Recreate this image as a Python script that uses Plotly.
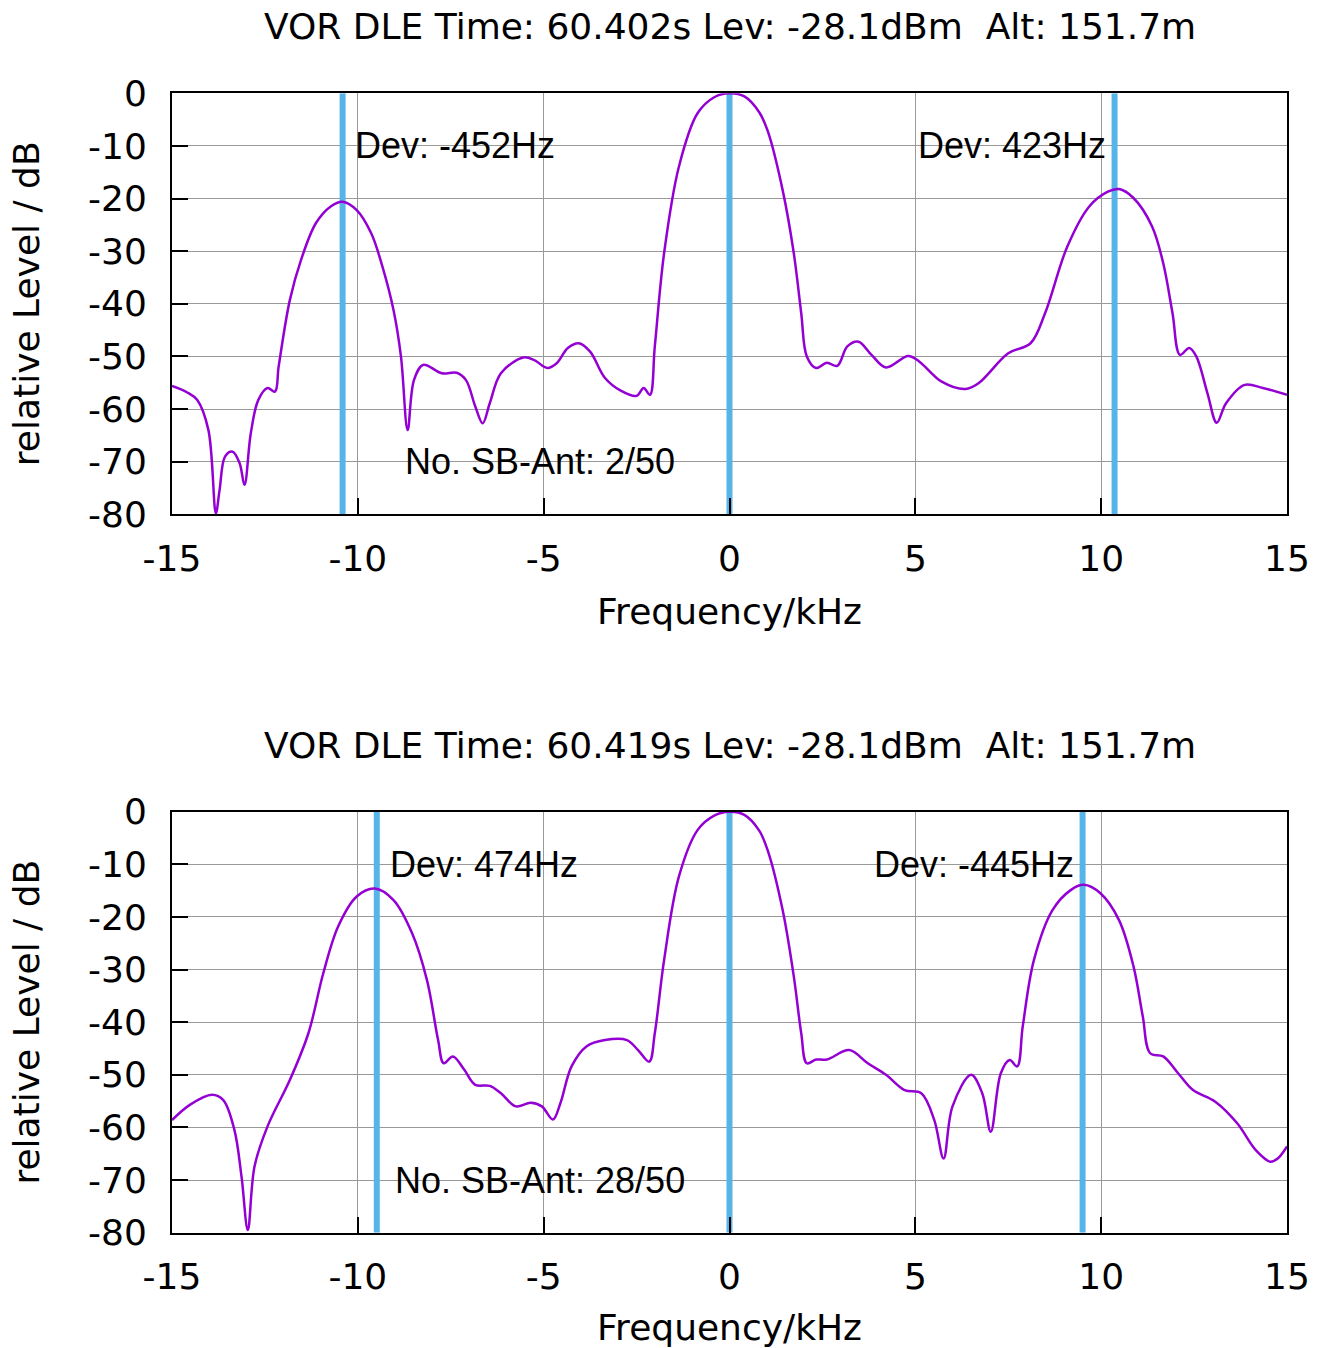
import plotly.graph_objects as go

# ---------------- data ----------------
titles = [
    "VOR DLE Time: 60.402s Lev: -28.1dBm \u00a0Alt: 151.7m",
    "VOR DLE Time: 60.419s Lev: -28.1dBm \u00a0Alt: 151.7m",
]

freq_top = [-15.0, -14.6, -14.32, -14.02, -13.82, -13.72, -13.57, -13.37, -13.18, -13.05, -12.88,
            -12.68, -12.43, -12.23, -12.13, -11.83, -11.53, -11.13, -10.73, -10.41, -10.03,
            -9.64, -9.34, -9.04, -8.84, -8.66, -8.49, -8.24, -7.74, -7.34, -7.09,
            -6.84, -6.64, -6.45, -6.15, -5.55, -5.25, -4.9, -4.65, -4.35, -4.05,
            -3.75, -3.35, -2.95, -2.5, -2.31, -2.14, -2.01, -1.76, -1.36, -0.86, -0.4,
            0.0, 0.4, 0.8, 1.03, 1.43, 1.73, 1.93, 2.08, 2.33, 2.62, 2.9,
            3.17, 3.47, 3.82, 4.21, 4.81, 5.11, 5.71, 6.35, 6.7, 7.5,
            8.1, 8.49, 9.09, 9.68, 10.18, 10.48, 10.87, 11.37, 11.67, 11.92,
            12.12, 12.37, 12.56, 12.86, 13.11, 13.36, 13.86, 14.35, 15.0]
level_top = [-55.6, -56.8, -58.3, -64.0, -79.8, -75.4, -69.0, -68.1, -70.3, -74.4, -64.6,
             -58.3, -56.0, -56.7, -51.9, -39.3, -31.7, -24.7, -21.5, -20.6, -22.2,
             -26.6, -32.9, -41.2, -50.0, -64.0, -54.5, -51.6, -53.2, -53.1, -54.5,
             -59.5, -62.7, -58.9, -53.2, -50.2, -50.7, -52.2, -51.3, -48.4, -47.5,
             -49.1, -54.1, -56.4, -57.5, -56.0, -57.3, -48.1, -30.4, -13.9, -3.8, -0.7,
             0.0, -0.6, -3.6, -7.2, -18.4, -30.4, -41.8, -50.0, -52.2, -51.2, -51.8,
             -48.1, -47.2, -49.7, -52.1, -49.9, -51.0, -54.8, -56.2, -55.1, -49.4,
             -47.5, -41.8, -29.1, -21.5, -18.7, -18.2, -19.9, -25.3, -32.3, -41.8,
             -49.7, -48.4, -50.0, -57.0, -62.6, -58.9, -55.4, -56.0, -57.3]

freq_bottom = [-15.0, -14.52, -13.92, -13.62, -13.32, -13.13, -12.96, -12.78, -12.43, -11.83,
               -11.33, -10.93, -10.53, -10.03, -9.54, -9.04, -8.54, -8.14, -7.84, -7.69,
               -7.44, -7.14, -6.84, -6.45, -6.15, -5.75, -5.35, -5.05, -4.75, -4.55,
               -4.25, -3.85, -3.35, -2.76, -2.46, -2.16, -2.01, -1.76, -1.36, -0.86, -0.4,
               0.0, 0.4, 0.8, 1.03, 1.43, 1.73, 1.93, 2.08, 2.33, 2.62, 3.22,
               3.72, 4.21, 4.71, 5.16, 5.51, 5.76, 6.0, 6.5, 6.8, 7.03,
               7.3, 7.54, 7.74, 7.89, 8.19, 8.69, 9.18, 9.53, 9.98, 10.48,
               10.87, 11.12, 11.32, 11.67, 12.07, 12.47, 13.07, 13.66, 14.16, 14.55,
               14.75, 15.0]
level_bottom = [-58.6, -55.7, -53.8, -54.8, -60.5, -69.3, -79.5, -67.4, -59.8, -51.0,
                -42.1, -30.7, -21.8, -16.1, -14.6, -16.8, -23.1, -32.0, -43.4, -47.8,
                -46.5, -49.0, -51.9, -52.1, -53.5, -56.0, -55.3, -56.0, -58.5, -55.4,
                -48.4, -44.6, -43.4, -43.4, -45.3, -47.5, -42.1, -28.2, -12.3, -3.5, -0.7,
                0.0, -0.6, -3.6, -7.4, -18.7, -31.3, -42.1, -47.8, -47.1, -47.1, -45.3,
                -47.8, -50.0, -52.9, -53.5, -58.6, -65.9, -56.0, -50.0, -53.5, -60.8,
                -49.7, -47.2, -48.4, -40.8, -28.2, -18.7, -14.9, -13.9, -15.5, -20.6,
                -29.4, -38.9, -45.9, -46.5, -49.7, -52.9, -55.1, -59.2, -64.3, -66.5,
                -65.9, -63.6]

markers_top = [-10.41, 0.0, 10.36]
markers_bottom = [-9.49, 0.0, 9.50]

dev_labels_top = ["Dev: -452Hz", "Dev: 423Hz"]
dev_x_top = [-10.12, 5.01]
dev_labels_bottom = ["Dev: 474Hz", "Dev: -445Hz"]
dev_x_bottom = [-9.2, 3.84]
dev_y = -10
sb_labels = ["No. SB-Ant: 2/50", "No. SB-Ant: 28/50"]
sb_x = [-8.78, -9.06]
sb_y = -70

x_range = [-15, 15]
y_range = [-80, 0]
x_ticks = [-15, -10, -5, 0, 5, 10, 15]
y_ticks = [0, -10, -20, -30, -40, -50, -60, -70, -80]

# ---------------- styling ----------------
W, H = 1318, 1348
PURPLE = "#9400D3"
BLUE = "#56B4E9"
TICK_FONT = dict(family="DejaVu Sans", size=36, color="black")
LABEL_FONT = dict(family="Liberation Sans, Arial", size=36, color="black")

x_dom = [172 / W, 1287 / W]
y_dom_top = [1 - 514.3 / H, 1 - 93.3 / H]
y_dom_bot = [1 - 1232.7 / H, 1 - 811.7 / H]

fig = go.Figure()

panels = [
    ("x", "y", markers_top, freq_top, level_top, dev_labels_top, dev_x_top, sb_labels[0], sb_x[0]),
    ("x2", "y2", markers_bottom, freq_bottom, level_bottom, dev_labels_bottom, dev_x_bottom, sb_labels[1], sb_x[1]),
]

annotations = []
for xa, ya, mk, fx, lv, dl, dx, sbl, sbx in panels:
    for m in mk:
        fig.add_trace(go.Scatter(x=[m, m], y=y_range, mode="lines",
                                 line=dict(color=BLUE, width=6),
                                 xaxis=xa, yaxis=ya, showlegend=False, hoverinfo="skip"))
    fig.add_trace(go.Scatter(x=fx, y=lv, mode="lines",
                             line=dict(color=PURPLE, width=2.5, shape="spline", smoothing=1.0),
                             xaxis=xa, yaxis=ya, showlegend=False))
    for t, xx in zip(dl, dx):
        annotations.append(dict(text=t, x=xx, y=dev_y, xref=xa, yref=ya, showarrow=False,
                                xanchor="left", yanchor="middle", font=LABEL_FONT))
    annotations.append(dict(text=sbl, x=sbx, y=sb_y, xref=xa, yref=ya, showarrow=False,
                            xanchor="left", yanchor="middle", font=LABEL_FONT))

# panel titles
for title, ypx in zip(titles, [27, 745]):
    annotations.append(dict(text=title, x=729.5 / W, y=1 - ypx / H, xref="paper", yref="paper",
                            showarrow=False, xanchor="center", yanchor="middle",
                            font=dict(family="DejaVu Sans", size=36, color="black")))

axis_common = dict(
    showgrid=True, gridcolor="#999999", gridwidth=1,
    showline=True, linecolor="black", linewidth=2, mirror=True,
    ticks="inside", ticklen=16, tickwidth=1.5, tickcolor="black",
    tickfont=TICK_FONT, zeroline=False, automargin=False,
)

xaxis_common = dict(axis_common, range=x_range, tickvals=x_ticks,
                    ticktext=[str(v) for v in x_ticks], domain=x_dom,
                    ticklabelstandoff=11,
                    title=dict(text="Frequency/kHz", font=TICK_FONT, standoff=21))
yaxis_common = dict(axis_common, range=y_range, tickvals=y_ticks,
                    ticktext=[str(v) for v in y_ticks],
                    ticklabelstandoff=16,
                    title=dict(text="relative Level / dB", font=TICK_FONT, standoff=37))

fig.update_layout(
    width=W, height=H,
    margin=dict(l=0, r=0, t=0, b=0),
    paper_bgcolor="white", plot_bgcolor="white",
    xaxis=dict(xaxis_common, anchor="y"),
    yaxis=dict(yaxis_common, domain=y_dom_top, anchor="x"),
    xaxis2=dict(xaxis_common, anchor="y2"),
    yaxis2=dict(yaxis_common, domain=y_dom_bot, anchor="x2"),
    annotations=annotations,
    showlegend=False,
)

fig.write_html("out.html")
